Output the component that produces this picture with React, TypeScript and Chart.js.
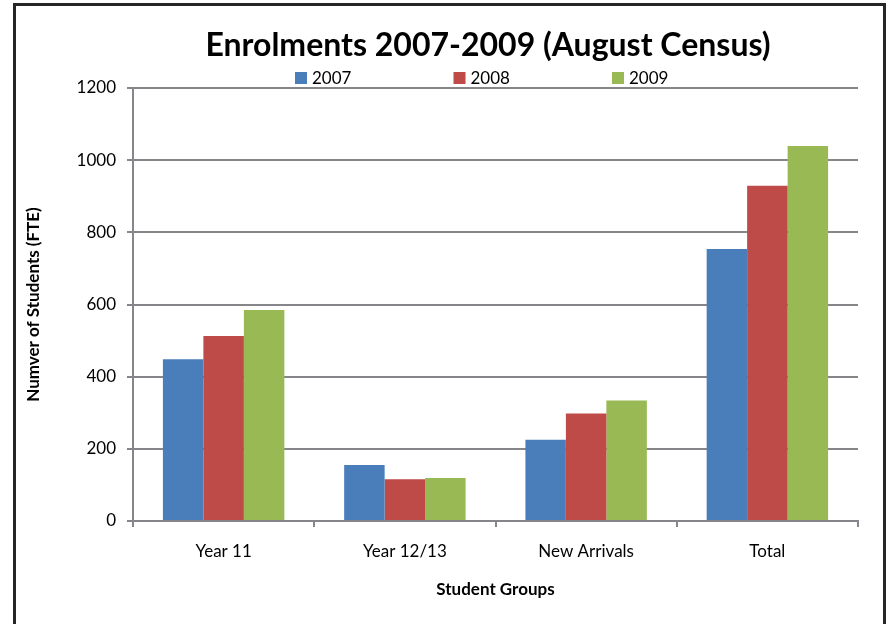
import React, { useEffect, useRef } from "react";
import { Chart, registerables } from "chart.js";

Chart.register(...registerables);

const chartTitle = "Enrolments 2007-2009 (August Census)";
const categories = ["Year 11", "Year 12/13", "New Arrivals", "Total"];
const seriesLabels = ["2007", "2008", "2009"];
const values2007 = [448, 155, 225, 754];
const values2008 = [513, 116, 298, 929];
const values2009 = [585, 119, 334, 1039];
const seriesColors = ["#4A7EBB", "#BE4B48", "#98B954"];
const yTitle = "Numver of Students (FTE)";
const xTitle = "Student Groups";
const yMin = 0;
const yMax = 1200;
const yStep = 200;

const FONT = "Lato";
const GRID = "#86868a";

const overlayPlugin = {
  id: "overlay",
  afterDraw(chart: any) {
    const ctx = chart.ctx;
    ctx.save();
    // outer frame
    ctx.strokeStyle = "#262626";
    ctx.lineWidth = 3;
    ctx.strokeRect(14.5, 4.5, 870, 700);
    // title
    ctx.fillStyle = "#000";
    ctx.font = `bold 32px ${FONT}`;
    ctx.textAlign = "center";
    ctx.textBaseline = "alphabetic";
    ctx.fillText(chartTitle, 488, 56);
    // legend
    ctx.font = `17px ${FONT}`;
    ctx.textAlign = "left";
    ctx.textBaseline = "middle";
    chart.data.datasets.forEach((ds: any, i: number) => {
      const x = 295 + i * 158.5;
      ctx.fillStyle = ds.backgroundColor;
      ctx.fillRect(x, 72, 12, 12);
      ctx.fillStyle = "#000";
      ctx.fillText(ds.label, x + 17, 79);
    });
    ctx.restore();
  },
};

export default function App() {
  const ref = useRef<HTMLCanvasElement | null>(null);

  useEffect(() => {
    if (!ref.current) return;
    const seriesValues = [values2007, values2008, values2009];
    const chart = new Chart(ref.current, {
      type: "bar",
      data: {
        labels: categories,
        datasets: seriesLabels.map((label, i) => ({
          label,
          data: seriesValues[i],
          backgroundColor: seriesColors[i],
          borderWidth: 0,
          categoryPercentage: 0.67,
          barPercentage: 1.0,
        })),
      },
      options: {
        animation: false,
        responsive: false,
        maintainAspectRatio: false,
        devicePixelRatio: 1,
        layout: { padding: { left: 14, right: 33, top: 88, bottom: 13 } },
        plugins: {
          legend: { display: false },
          title: { display: false },
          tooltip: { enabled: false },
        },
        scales: {
          x: {
            ticks: { font: { family: FONT, size: 17 }, color: "#000", padding: 14 },
            grid: {
              drawOnChartArea: false,
              drawTicks: true,
              tickLength: 6,
              color: GRID,
              lineWidth: 2,
            },
            border: { display: true, color: GRID, width: 2 },
            title: {
              display: true,
              text: xTitle,
              color: "#000",
              font: { family: FONT, size: 17, weight: "bold" },
              padding: { top: 0, bottom: 11 },
            },
            afterFit(scale: any) {
              scale.height = 90;
            },
          },
          y: {
            min: yMin,
            max: yMax,
            ticks: {
              stepSize: yStep,
              font: { family: FONT, size: 17 },
              color: "#000",
              padding: 11,
              callback: (v: any) => String(v),
            },
            grid: { color: GRID, lineWidth: 2, tickLength: 6, drawTicks: true },
            border: { display: true, color: GRID, width: 2 },
            title: {
              display: true,
              text: yTitle,
              color: "#000",
              font: { family: FONT, size: 17, weight: "bold" },
              padding: { top: 9, bottom: 0 },
            },
            afterFit(scale: any) {
              scale.width = 119;
            },
          },
        },
      } as any,
      plugins: [overlayPlugin],
    });
    return () => chart.destroy();
  }, []);

  return (
    <div style={{ position: "fixed", left: 0, top: 0, width: 891, height: 624, background: "#fff" }}>
      <canvas ref={ref} width={891} height={624} style={{ width: 891, height: 624, display: "block" }} />
    </div>
  );
}
